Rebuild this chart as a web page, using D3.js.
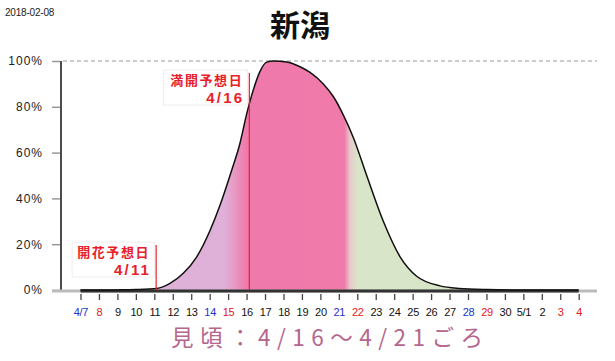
<!DOCTYPE html>
<html><head><meta charset="utf-8">
<script src="https://cdn.jsdelivr.net/npm/d3@7"></script>
<style>
html,body{margin:0;padding:0;background:#fff;}
svg{display:block;}
</style></head>
<body>
<svg id="chart" width="615" height="361"></svg>
<script>
// ---- data ----
const issueDate = "2018-02-08";
const cityName = "新潟";
const dayLabels = ["4/7","8","9","10","11","12","13","14","15","16","17","18","19","20","21","22","23","24","25","26","27","28","29","30","5/1","2","3","4"];
const dayKinds  = ["sat","hol","","","","","","sat","hol","","","","","","sat","hol","","","","","","sat","hol","","","","hol","hol"];
const yTickValues = [0,20,40,60,80,100];
// bloom curve (day offset from 4/7, percent)
const curveDays   = [0,1,2,3,4.13,4.85,5.57,6.3,7.02,7.56,8.18,8.64,9.01,9.37,9.73,10.09,10.45,11.18,11.9,12.44,13.16,13.7,14.24,14.79,15.51,16.41,17.32,18.22,19.48,20.5,22,24,27];
const curveValues = [0,0,0.05,0.2,0.7,2.9,7.3,14.5,26,37,52,64,77,87.5,95.5,99.5,100,99.6,97.5,95,90,84.5,76.5,66.5,50,30,14.5,6,1.8,0.7,0.2,0,0];
const bloomDayIndex = 4.1;   // 4/11
const fullDayIndex = 9.15;   // 4/16
const bloomLabel = ["開花予想日","4/11"];
const fullLabel = ["満開予想日","4/16"];
const peakText = "見頃：4/16〜4/21ごろ";
// colour phases along the season (day offset)
const phaseDays   = [0,7.8,8.3,9.0,14.3,14.6,15.0,27];
const phaseColors = ["#dcb3da","#dfb0d8","#e69bc6","#ef79aa","#f07bab","#e8c8cc","#d9e5c8","#d8e4c6"];

// ---- layout ----
const svg = d3.select("#chart");
const x = d3.scaleLinear().domain([0,27]).range([80.5,578.7]);
const y = d3.scaleLinear().domain([0,100]).range([290,61]);

// gradient
const defs = svg.append("defs");
const grad = defs.append("linearGradient").attr("id","bloomGrad")
  .attr("gradientUnits","userSpaceOnUse")
  .attr("x1",x(0)).attr("x2",x(27)).attr("y1",0).attr("y2",0);
phaseDays.forEach((d,i)=>{
  grad.append("stop").attr("offset",(d/27)).attr("stop-color",phaseColors[i]);
});

// date stamp
svg.append("text").attr("x",5).attr("y",16)
  .attr("font-family","Liberation Sans, Arial, sans-serif").attr("font-size",10)
  .attr("fill","#222").attr("letter-spacing","-0.2").text(issueDate);

// title
svg.append("text").attr("x",300).attr("y",36).attr("text-anchor","middle")
  .attr("font-family","Noto Sans CJK JP, sans-serif").attr("font-weight","bold")
  .attr("font-size",30).attr("fill","#111").text(cityName);

// 100% dashed line
svg.append("line").attr("x1",63).attr("x2",597).attr("y1",y(100)).attr("y2",y(100))
  .attr("stroke","#999").attr("stroke-width",1.2).attr("stroke-dasharray","4,3");

// area + curve
const pts = curveDays.map((d,i)=>[d,curveValues[i]]);
const area = d3.area().x(d=>x(d[0])).y0(y(0)).y1(d=>y(d[1])).curve(d3.curveMonotoneX);
const line = d3.line().x(d=>x(d[0])).y(d=>y(d[1])).curve(d3.curveMonotoneX);
svg.append("path").datum(pts).attr("d",area).attr("fill","url(#bloomGrad)");

// y axis ticks
const yAxis = d3.axisLeft(y).tickValues(yTickValues).tickFormat(d=>d+"%").tickSize(8).tickPadding(10);
const gy = svg.append("g").attr("transform","translate(60,0)").call(yAxis);
gy.select(".domain").remove();
gy.selectAll(".tick line").attr("stroke","#999").attr("stroke-width",1.5);
gy.selectAll(".tick text").attr("font-family","Liberation Sans, Arial, sans-serif")
  .attr("font-size",12).attr("fill","#222").attr("letter-spacing","1").attr("x",-17);
svg.append("line").attr("x1",61).attr("x2",61).attr("y1",y(100)).attr("y2",y(0)+1)
  .attr("stroke","#111").attr("stroke-width",1.5);

// bottom bars
svg.append("line").attr("x1",52).attr("x2",597).attr("y1",291).attr("y2",291)
  .attr("stroke","#bbb").attr("stroke-width",3);
svg.append("line").attr("x1",x(0)).attr("x2",x(27)).attr("y1",291).attr("y2",291)
  .attr("stroke","#333").attr("stroke-width",3);

// curve line
svg.append("path").datum(pts).attr("d",line).attr("fill","none")
  .attr("stroke","#111").attr("stroke-width",1.5);

// x axis
const xAxis = d3.axisBottom(x).tickValues(d3.range(dayLabels.length))
  .tickFormat(i=>dayLabels[i]).tickSize(6).tickPadding(8);
const gx = svg.append("g").attr("transform","translate(0,294)").call(xAxis);
gx.select(".domain").remove();
gx.selectAll(".tick line").attr("stroke","#444").attr("stroke-width",1.3);
gx.selectAll(".tick text").attr("font-family","Liberation Sans, Arial, sans-serif")
  .attr("font-size",11).attr("letter-spacing","-0.3")
  .attr("fill",i=>dayKinds[i]==="sat"?"#2233cc":dayKinds[i]==="hol"?"#e02020":"#111");

// markers
function marker(idx, topY, lab, boxW){
  const lx = x(idx);
  const right = lx-6;
  svg.append("rect").attr("x",right-boxW).attr("y",topY-3).attr("width",boxW+4).attr("height",35)
    .attr("fill","#fff").attr("fill-opacity",0.85).attr("stroke","#eee");
  svg.append("line").attr("x1",lx).attr("x2",lx).attr("y1",topY).attr("y2",y(0))
    .attr("stroke","#e8202a").attr("stroke-width",1.2);
  svg.append("text").attr("x",right).attr("y",topY+11.5).attr("text-anchor","end")
    .attr("font-family","Noto Sans CJK JP, sans-serif").attr("font-weight","bold")
    .attr("font-size",13).attr("letter-spacing","1.6").attr("fill","#e8202a").text(lab[0]);
  svg.append("text").attr("x",right+1).attr("y",topY+29.5).attr("text-anchor","end")
    .attr("font-family","Liberation Sans, Arial, sans-serif").attr("font-weight","bold")
    .attr("font-size",15).attr("letter-spacing","2.2").attr("fill","#e8202a").text(lab[1]);
}
marker(bloomDayIndex, 245, bloomLabel, 78);
marker(fullDayIndex, 73, fullLabel, 80);

// peak text
svg.append("text").attr("x",171).attr("y",345.5)
  .attr("font-family","Noto Sans CJK JP, sans-serif").attr("font-size",22.5)
  .attr("fill","#b5668c").attr("textLength",312).attr("lengthAdjust","spacing")
  .text(peakText);
</script>
</body></html>
